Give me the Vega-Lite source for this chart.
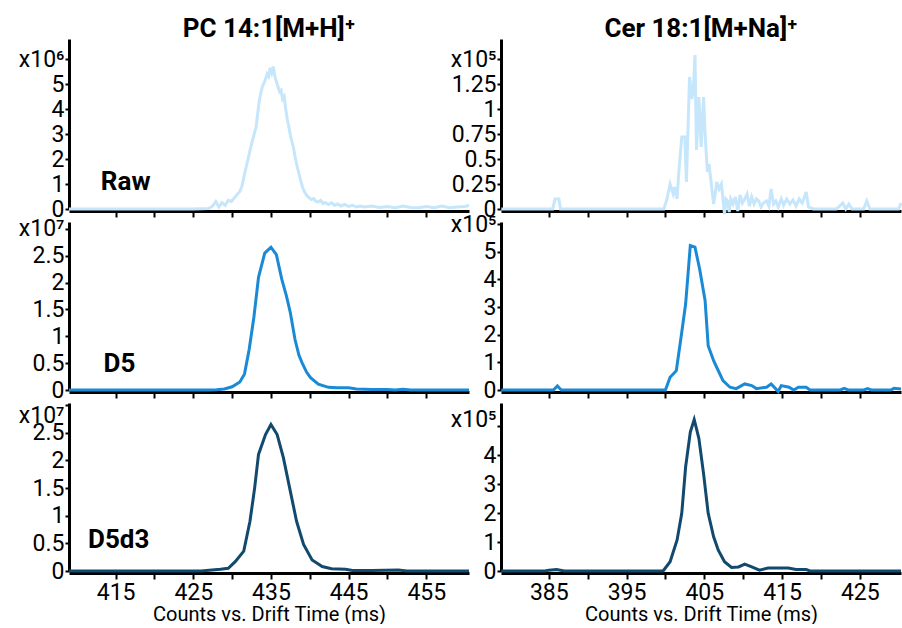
{
  "$schema": "https://vega.github.io/schema/vega-lite/v6.json",
  "padding": {"left": 18, "top": 16, "right": 0, "bottom": 0},
  "background": "white",
  "datasets": {
    "pcRaw": [
      {"t":409,"v":0},{"t":415,"v":0},{"t":420,"v":0},{"t":425,"v":0},{"t":427,"v":0.02e6},
      {"t":427.5,"v":0.12e6},{"t":427.9,"v":0.3e6},{"t":428.3,"v":0.08e6},{"t":428.7,"v":0.25e6},{"t":429.1,"v":0.15e6},
      {"t":429.5,"v":0.35e6},{"t":429.9,"v":0.3e6},{"t":430.3,"v":0.45e6},{"t":430.7,"v":0.6e6},{"t":431.0,"v":0.7e6},
      {"t":431.3,"v":0.95e6},{"t":431.6,"v":1.4e6},{"t":431.9,"v":1.8e6},{"t":432.2,"v":2.2e6},{"t":432.5,"v":2.6e6},
      {"t":432.8,"v":2.95e6},{"t":433.1,"v":3.3e6},{"t":433.4,"v":4.1e6},{"t":433.6,"v":4.5e6},{"t":433.9,"v":4.9e6},
      {"t":434.2,"v":5.1e6},{"t":434.5,"v":5.4e6},{"t":434.7,"v":5.3e6},{"t":434.9,"v":5.65e6},{"t":435.1,"v":5.45e6},
      {"t":435.3,"v":5.7e6},{"t":435.5,"v":5.3e6},{"t":435.7,"v":5.1e6},{"t":435.9,"v":4.9e6},{"t":436.1,"v":4.7e6},
      {"t":436.3,"v":4.75e6},{"t":436.5,"v":4.4e6},{"t":436.7,"v":4.5e6},{"t":436.9,"v":4.0e6},{"t":437.1,"v":3.6e6},
      {"t":437.3,"v":3.3e6},{"t":437.5,"v":2.95e6},{"t":437.7,"v":2.7e6},{"t":437.9,"v":2.45e6},{"t":438.1,"v":2.1e6},
      {"t":438.3,"v":1.8e6},{"t":438.5,"v":1.55e6},{"t":438.7,"v":1.3e6},{"t":438.9,"v":1.05e6},{"t":439.1,"v":0.85e6},
      {"t":439.3,"v":0.7e6},{"t":439.6,"v":0.55e6},{"t":439.9,"v":0.45e6},{"t":440.2,"v":0.38e6},{"t":440.5,"v":0.42e6},
      {"t":440.8,"v":0.3e6},{"t":441.1,"v":0.28e6},{"t":441.4,"v":0.35e6},{"t":441.7,"v":0.22e6},{"t":442.0,"v":0.25e6},
      {"t":442.4,"v":0.18e6},{"t":442.8,"v":0.25e6},{"t":443.2,"v":0.15e6},{"t":443.6,"v":0.2e6},{"t":444.0,"v":0.12e6},
      {"t":444.5,"v":0.18e6},{"t":445,"v":0.1e6},{"t":445.5,"v":0.15e6},{"t":446,"v":0.08e6},{"t":446.5,"v":0.12e6},
      {"t":447,"v":0.08e6},{"t":448,"v":0.12e6},{"t":449,"v":0.06e6},{"t":450,"v":0.1e6},{"t":451,"v":0.05e6},
      {"t":452,"v":0.12e6},{"t":453,"v":0.06e6},{"t":454,"v":0.05e6},{"t":455,"v":0.1e6},{"t":456,"v":0.05e6},
      {"t":457,"v":0.12e6},{"t":458,"v":0.05e6},{"t":459,"v":0.08e6},{"t":460,"v":0.1e6},{"t":460.5,"v":0.15e6}
    ],
    "pcD5": [
      {"t":409,"v":0},{"t":415,"v":0},{"t":420,"v":0},{"t":425,"v":0},{"t":427,"v":0},{"t":428,"v":0.005e7},
      {"t":429,"v":0.02e7},{"t":430,"v":0.06e7},{"t":431,"v":0.15e7},{"t":431.6,"v":0.3e7},{"t":432.2,"v":0.76e7},
      {"t":432.8,"v":1.35e7},{"t":433.4,"v":2.1e7},{"t":434.2,"v":2.55e7},{"t":435,"v":2.66e7},{"t":435.7,"v":2.52e7},
      {"t":436.4,"v":2.06e7},{"t":437.0,"v":1.75e7},{"t":437.5,"v":1.44e7},{"t":438.1,"v":0.94e7},{"t":438.6,"v":0.65e7},
      {"t":439.0,"v":0.51e7},{"t":439.6,"v":0.33e7},{"t":440.1,"v":0.23e7},{"t":441.1,"v":0.11e7},{"t":442.4,"v":0.05e7},
      {"t":443.5,"v":0.04e7},{"t":445,"v":0.04e7},{"t":446,"v":0.02e7},{"t":447,"v":0.015e7},{"t":448,"v":0.01e7},
      {"t":450,"v":0.01e7},{"t":451,"v":0},{"t":452,"v":0.015e7},{"t":453,"v":0},{"t":455,"v":0},{"t":460.5,"v":0}
    ],
    "pcD5d3": [
      {"t":409,"v":0},{"t":420,"v":0},{"t":426,"v":0},{"t":427.4,"v":0.02e7},{"t":428.5,"v":0.03e7},{"t":429.5,"v":0.05e7},
      {"t":430.4,"v":0.17e7},{"t":431.5,"v":0.36e7},{"t":432.3,"v":0.9e7},{"t":432.9,"v":1.5e7},{"t":433.4,"v":2.11e7},
      {"t":434.3,"v":2.47e7},{"t":435.0,"v":2.65e7},{"t":435.8,"v":2.47e7},{"t":436.6,"v":2.05e7},{"t":437.5,"v":1.44e7},
      {"t":438.3,"v":0.9e7},{"t":439.2,"v":0.48e7},{"t":440.3,"v":0.2e7},{"t":441.6,"v":0.08e7},{"t":442.8,"v":0.04e7},
      {"t":444.6,"v":0.03e7},{"t":445.5,"v":0.01e7},{"t":448,"v":0.01e7},{"t":451.4,"v":0.02e7},{"t":452.5,"v":0},{"t":460.5,"v":0}
    ],
    "cerRaw": [
      {"t":378.9,"v":0},{"t":385.5,"v":0},{"t":385.8,"v":0.1e5},{"t":386.3,"v":0.1e5},{"t":386.5,"v":0},{"t":390,"v":0},
      {"t":395,"v":0},{"t":399.8,"v":0},{"t":400.2,"v":0.1e5},{"t":400.6,"v":0.25e5},{"t":401.0,"v":0.15e5},{"t":401.2,"v":0.22e5},
      {"t":401.5,"v":0.1e5},{"t":401.7,"v":0.35e5},{"t":402.1,"v":0.72e5},{"t":402.5,"v":0.72e5},{"t":402.7,"v":0.27e5},
      {"t":403.1,"v":1.32e5},{"t":403.4,"v":1.1e5},{"t":403.6,"v":1.22e5},{"t":403.8,"v":1.54e5},{"t":404.0,"v":0.59e5},
      {"t":404.3,"v":1.12e5},{"t":404.6,"v":0.62e5},{"t":404.9,"v":1.12e5},{"t":405.1,"v":0.75e5},{"t":405.4,"v":0.37e5},
      {"t":405.6,"v":0.45e5},{"t":405.9,"v":0.25e5},{"t":406.2,"v":0.05e5},{"t":406.4,"v":0.15e5},{"t":406.6,"v":0.27e5},
      {"t":406.9,"v":0.2e5},{"t":407.2,"v":0.25e5},{"t":407.4,"v":0.1e5},{"t":407.6,"v":-0.05e5},{"t":407.8,"v":0.1e5},
      {"t":408.0,"v":0.08e5},{"t":408.2,"v":-0.03e5},{"t":408.4,"v":0.1e5},{"t":408.7,"v":0.05e5},{"t":409.0,"v":0.12e5},
      {"t":409.3,"v":-0.02e5},{"t":409.6,"v":0.14e5},{"t":409.9,"v":0.06e5},{"t":410.2,"v":0.1e5},{"t":410.5,"v":0.15e5},
      {"t":410.8,"v":0.03e5},{"t":411.1,"v":0.12e5},{"t":411.4,"v":0.05e5},{"t":411.7,"v":0.1e5},{"t":412.0,"v":0.08e5},
      {"t":412.3,"v":0.02e5},{"t":412.6,"v":0.06e5},{"t":413.0,"v":0.08e5},{"t":413.3,"v":0.03e5},{"t":413.6,"v":0.2e5},
      {"t":413.9,"v":0.05e5},{"t":414.2,"v":0.08e5},{"t":414.5,"v":0.02e5},{"t":414.9,"v":0.1e5},{"t":415.2,"v":0.04e5},
      {"t":415.6,"v":0.1e5},{"t":416.0,"v":0.05e5},{"t":416.4,"v":0.09e5},{"t":416.8,"v":0.03e5},{"t":417.2,"v":0.1e5},
      {"t":417.6,"v":0.06e5},{"t":418.1,"v":0.17e5},{"t":418.4,"v":0.02e5},{"t":419,"v":0},{"t":422,"v":0},
      {"t":422.8,"v":0.06e5},{"t":423.2,"v":0},{"t":423.6,"v":0.05e5},{"t":424,"v":0},{"t":425.5,"v":0},
      {"t":425.9,"v":0.08e5},{"t":426.3,"v":0},{"t":430,"v":0},{"t":430.3,"v":0.06e5}
    ],
    "cerD5": [
      {"t":378.9,"v":0},{"t":385.6,"v":0},{"t":386.1,"v":0.15e5},{"t":386.6,"v":0},{"t":395,"v":0},{"t":400,"v":0},
      {"t":400.6,"v":0.46e5},{"t":401.4,"v":0.7e5},{"t":402.1,"v":2.09e5},{"t":402.6,"v":3.12e5},{"t":403.2,"v":5.23e5},
      {"t":403.8,"v":5.17e5},{"t":404.4,"v":4.38e5},{"t":405.1,"v":3.24e5},{"t":405.5,"v":1.6e5},{"t":406.2,"v":1.06e5},
      {"t":406.7,"v":0.76e5},{"t":407.4,"v":0.34e5},{"t":408.3,"v":0.1e5},{"t":409.1,"v":0.05e5},{"t":410.2,"v":0.22e5},
      {"t":411.1,"v":0.16e5},{"t":411.7,"v":0.05e5},{"t":413.0,"v":0.1e5},{"t":413.6,"v":0.22e5},{"t":414.5,"v":-0.05e5},
      {"t":414.9,"v":0.16e5},{"t":415.9,"v":0.1e5},{"t":416.5,"v":0},{"t":417.1,"v":0.1e5},{"t":418.1,"v":0.1e5},
      {"t":418.6,"v":0},{"t":422.5,"v":0},{"t":423.0,"v":0.06e5},{"t":423.5,"v":0},{"t":425.5,"v":0},{"t":426,"v":0.05e5},
      {"t":426.5,"v":0},{"t":429,"v":0},{"t":429.4,"v":0.06e5},{"t":430.3,"v":0.04e5}
    ],
    "cerD5d3": [
      {"t":378.9,"v":0},{"t":384.5,"v":0},{"t":385,"v":0.03e5},{"t":386,"v":0.05e5},{"t":387,"v":0},{"t":395,"v":0},
      {"t":399.7,"v":0},{"t":400.6,"v":0.32e5},{"t":401.5,"v":1.07e5},{"t":402.1,"v":1.99e5},{"t":402.6,"v":3.6e5},
      {"t":403.2,"v":4.8e5},{"t":403.7,"v":5.23e5},{"t":404.3,"v":4.58e5},{"t":404.9,"v":3.37e5},{"t":405.5,"v":1.99e5},
      {"t":406.2,"v":1.18e5},{"t":406.8,"v":0.72e5},{"t":407.6,"v":0.32e5},{"t":408.5,"v":0.12e5},{"t":409.4,"v":0.14e5},
      {"t":410.2,"v":0.24e5},{"t":411.1,"v":0.14e5},{"t":412.1,"v":0.03e5},{"t":413.2,"v":0.1e5},{"t":415.8,"v":0.1e5},
      {"t":416.8,"v":0.05e5},{"t":418.1,"v":0.05e5},{"t":418.6,"v":0},{"t":430.3,"v":0}
    ]
  },
  "config": {
    "view": {"stroke": null},
    "font": "Roboto",
    "axis": {
      "grid": false, "domainColor": "black", "domainWidth": 3, "tickColor": "black", "tickWidth": 2,
      "labelColor": "black", "labelFont": "Roboto", "labelFontSize": 23, "labelOverlap": false, "labelFlush": false,
      "titleFont": "Roboto", "titleFontSize": 20, "titleFontWeight": "normal", "titleColor": "black", "zindex": 0
    },
    "axisX": {"tickSize": 6, "labelPadding": 2, "offset": 2, "titlePadding": 0},
    "axisY": {"tickSize": 4, "labelPadding": 1},
    "title": {"font": "Roboto", "fontSize": 26, "fontWeight": "bold", "color": "black", "anchor": "middle", "offset": -3},
    "text": {"font": "Roboto", "fontWeight": "bold", "fontSize": 26, "color": "black"}
  },
  "columns": 2,
  "bounds": "flush",
  "spacing": {"row": 13, "column": 32},
  "concat": [
    {
      "width": 400, "height": 170,
      "title": {"text": "PC 14:1[M+H]⁺"},
      "layer": [
        {"data": {"name": "pcRaw"}, "mark": {"type": "line", "color": "#c6e6fb", "strokeWidth": 3},
         "encoding": {
           "x": {"field": "t", "type": "quantitative", "scale": {"domain": [409, 460.5], "nice": false, "zero": false},
                 "axis": {"title": null, "labels": false, "values": [415,420,425,430,435,440,445,450,455]}},
           "y": {"field": "v", "type": "quantitative", "scale": {"domain": [0, 6800000], "nice": false},
                 "axis": {"title": null, "values": [0,1000000,2000000,3000000,4000000,5000000,6000000],
                          "labelExpr": "datum.value == 6000000 ? 'x10⁶' : '' + datum.value / 1000000"}}
         }},
        {"data": {"values": [{}]}, "mark": {"type": "text", "text": "Raw"},
         "encoding": {
           "x": {"datum": 416.3, "type": "quantitative",
                 "axis": {"title": null, "labels": false, "values": [415,420,425,430,435,440,445,450,455]}},
           "y": {"datum": 1100000, "type": "quantitative",
                 "axis": {"title": null, "values": [0,1000000,2000000,3000000,4000000,5000000,6000000],
                          "labelExpr": "datum.value == 6000000 ? 'x10⁶' : '' + datum.value / 1000000"}}
         }}
      ]
    },
    {
      "width": 400, "height": 170,
      "title": {"text": "Cer 18:1[M+Na]⁺"},
      "layer": [
        {"data": {"name": "cerRaw"}, "mark": {"type": "line", "color": "#c6e6fb", "strokeWidth": 3},
         "encoding": {
           "x": {"field": "t", "type": "quantitative", "scale": {"domain": [378.85, 430.3], "nice": false, "zero": false},
                 "axis": {"title": null, "labels": false, "values": [385,390,395,400,405,410,415,420,425]}},
           "y": {"field": "v", "type": "quantitative", "scale": {"domain": [0, 170000], "nice": false},
                 "axis": {"title": null, "values": [0,25000,50000,75000,100000,125000,150000],
                          "labelExpr": "datum.value == 150000 ? 'x10⁵' : '' + datum.value / 100000"}}
         }}
      ]
    },
    {
      "width": 400, "height": 168,
      "layer": [
        {"data": {"name": "pcD5"}, "mark": {"type": "line", "color": "#1a8ad6", "strokeWidth": 3},
         "encoding": {
           "x": {"field": "t", "type": "quantitative", "scale": {"domain": [409, 460.5], "nice": false, "zero": false},
                 "axis": {"title": null, "labels": false, "values": [415,420,425,430,435,440,445,450,455]}},
           "y": {"field": "v", "type": "quantitative", "scale": {"domain": [0, 31300000], "nice": false},
                 "axis": {"title": null, "values": [0,5000000,10000000,15000000,20000000,25000000,30000000],
                          "labelExpr": "datum.value == 30000000 ? 'x10⁷' : '' + datum.value / 10000000"}}
         }},
        {"data": {"values": [{}]}, "mark": {"type": "text", "text": "D5"},
         "encoding": {
           "x": {"datum": 415.5, "type": "quantitative",
                 "axis": {"title": null, "labels": false, "values": [415,420,425,430,435,440,445,450,455]}},
           "y": {"datum": 4800000, "type": "quantitative",
                 "axis": {"title": null, "values": [0,5000000,10000000,15000000,20000000,25000000,30000000],
                          "labelExpr": "datum.value == 30000000 ? 'x10⁷' : '' + datum.value / 10000000"}}
         }}
      ]
    },
    {
      "width": 400, "height": 168,
      "layer": [
        {"data": {"name": "cerD5"}, "mark": {"type": "line", "color": "#1a8ad6", "strokeWidth": 3},
         "encoding": {
           "x": {"field": "t", "type": "quantitative", "scale": {"domain": [378.85, 430.3], "nice": false, "zero": false},
                 "axis": {"title": null, "labels": false, "values": [385,390,395,400,405,410,415,420,425]}},
           "y": {"field": "v", "type": "quantitative", "scale": {"domain": [0, 608000], "nice": false},
                 "axis": {"title": null, "values": [0,100000,200000,300000,400000,500000,600000],
                          "labelExpr": "datum.value == 600000 ? 'x10⁵' : '' + datum.value / 100000"}}
         }}
      ]
    },
    {
      "width": 400, "height": 168,
      "layer": [
        {"data": {"name": "pcD5d3"}, "mark": {"type": "line", "color": "#114a6e", "strokeWidth": 3},
         "encoding": {
           "x": {"field": "t", "type": "quantitative", "scale": {"domain": [409, 460.5], "nice": false, "zero": false},
                 "axis": {"title": "Counts vs. Drift Time (ms)", "values": [415,420,425,430,435,440,445,450,455],
                          "labelExpr": "datum.value % 10 == 5 ? datum.label : ''"}},
           "y": {"field": "v", "type": "quantitative", "scale": {"domain": [0, 30400000], "nice": false},
                 "axis": {"title": null, "values": [0,5000000,10000000,15000000,20000000,25000000,30000000],
                          "labelOffset": {"condition": {"test": "datum.value == 30000000", "value": 10}, "value": 0},
                          "labelExpr": "datum.value == 30000000 ? 'x10⁷' : '' + datum.value / 10000000"}}
         }},
        {"data": {"values": [{}]}, "mark": {"type": "text", "text": "D5d3"},
         "encoding": {
           "x": {"datum": 415.4, "type": "quantitative",
                 "axis": {"title": "Counts vs. Drift Time (ms)", "values": [415,420,425,430,435,440,445,450,455],
                          "labelExpr": "datum.value % 10 == 5 ? datum.label : ''"}},
           "y": {"datum": 5600000, "type": "quantitative",
                 "axis": {"title": null, "values": [0,5000000,10000000,15000000,20000000,25000000,30000000],
                          "labelOffset": {"condition": {"test": "datum.value == 30000000", "value": 10}, "value": 0},
                          "labelExpr": "datum.value == 30000000 ? 'x10⁷' : '' + datum.value / 10000000"}}
         }}
      ]
    },
    {
      "width": 400, "height": 168,
      "layer": [
        {"data": {"name": "cerD5d3"}, "mark": {"type": "line", "color": "#114a6e", "strokeWidth": 3},
         "encoding": {
           "x": {"field": "t", "type": "quantitative", "scale": {"domain": [378.85, 430.3], "nice": false, "zero": false},
                 "axis": {"title": "Counts vs. Drift Time (ms)", "values": [385,390,395,400,405,410,415,420,425],
                          "labelExpr": "datum.value % 10 == 5 ? datum.label : ''"}},
           "y": {"field": "v", "type": "quantitative", "scale": {"domain": [0, 580000], "nice": false},
                 "axis": {"title": null, "values": [0,100000,200000,300000,400000,500000],
                          "labelOffset": {"condition": {"test": "datum.value == 500000", "value": -7}, "value": 0},
                          "labelExpr": "datum.value == 500000 ? 'x10⁵' : '' + datum.value / 100000"}}
         }}
      ]
    }
  ]
}
